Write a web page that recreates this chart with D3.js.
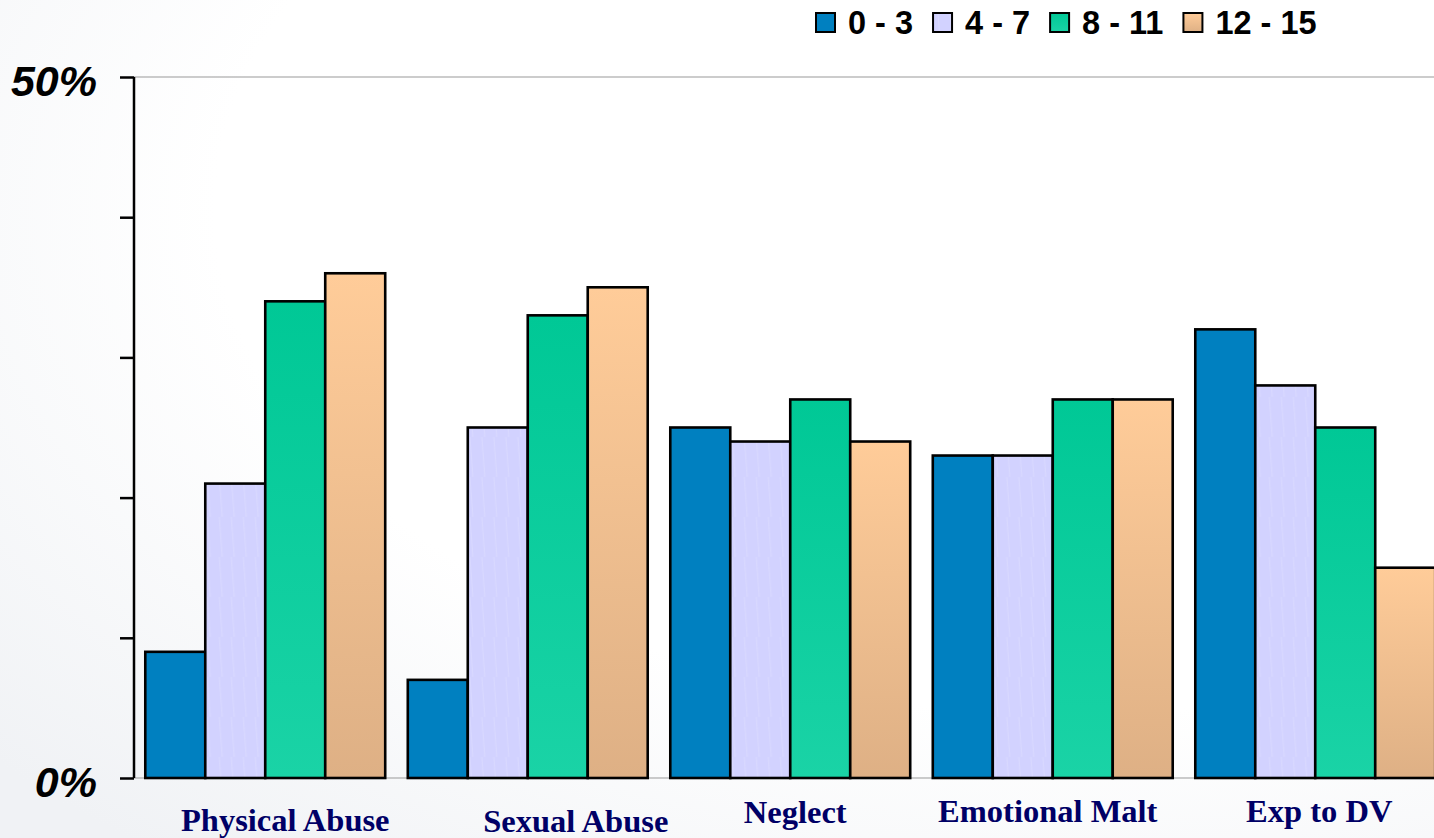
<!DOCTYPE html>
<html>
<head>
<meta charset="utf-8">
<script src="https://cdn.jsdelivr.net/npm/d3@7"></script>
<style>
  html, body { margin: 0; padding: 0; background: #fff; }
  svg { display: block; }
</style>
</head>
<body>
<svg id="chart" width="1434" height="838"></svg>
<script>
// categories and age groups
const categories = ["Physical Abuse", "Sexual Abuse", "Neglect", "Emotional Malt", "Exp to DV"]
const ageGroups = ["0 - 3", "4 - 7", "8 - 11", "12 - 15"]

// percent of cases, one array per age group (same order as categories)
const age0to3 = [9, 7, 25, 23, 32]
const age4to7 = [21, 25, 24, 23, 28]
const age8to11 = [34, 33, 27, 27, 25]
const age12to15 = [36, 35, 24, 27, 15]

const yTicks = [0, 10, 20, 30, 40, 50]
const yTickLabels = ["0%", "", "", "", "", "50%"]

const seriesValues = [age0to3, age4to7, age8to11, age12to15]

const svg = d3.select("#chart")
const W = 1434, H = 838
const margin = { left: 134, top: 77, bottom: 60 }
const plotW = 1312.5
const plotH = 778 - margin.top

/* background + gradients */
const defs = svg.append("defs")

let bg = defs.append("radialGradient").attr("id", "bg")
    .attr("cx", "0.75").attr("cy", "0.25").attr("r", "1")
bg.append("stop").attr("offset", "0.6").attr("stop-color", "#ffffff")
bg.append("stop").attr("offset", "1").attr("stop-color", "#f0f2f5")

svg.append("rect").attr("width", W).attr("height", H).attr("fill", "url(#bg)")

let g1 = defs.append("linearGradient").attr("id", "grad811").attr("x1", 0).attr("y1", 0).attr("x2", 0).attr("y2", 1)
g1.append("stop").attr("offset", 0).attr("stop-color", "#00c896")
g1.append("stop").attr("offset", 1).attr("stop-color", "#1ad3a6")

let g2 = defs.append("linearGradient").attr("id", "grad1215").attr("x1", 0).attr("y1", 0).attr("x2", 0).attr("y2", 1)
g2.append("stop").attr("offset", 0).attr("stop-color", "#ffcc99")
g2.append("stop").attr("offset", 1).attr("stop-color", "#deb085")

let pat = defs.append("pattern").attr("id", "lav")
    .attr("patternUnits", "userSpaceOnUse").attr("width", 12).attr("height", 40)
pat.append("rect").attr("width", 12).attr("height", 40).attr("fill", "#d2d2ff")
pat.append("line").attr("x1", 2).attr("y1", 0).attr("x2", 5).attr("y2", 40)
    .attr("stroke", "#dadaff").attr("stroke-width", 1)

const fills = ["#0080c0", "url(#lav)", "url(#grad811)", "url(#grad1215)"]

/* scales */
const x0 = d3.scaleBand().domain(categories).range([0, plotW]).paddingInner(0.086).paddingOuter(0.043)
const x1 = d3.scaleBand().domain(ageGroups).range([0, x0.bandwidth()])
const y = d3.scaleLinear().domain([0, 50]).range([plotH, 0])

const chartG = svg.append("g").attr("transform", `translate(${margin.left},${margin.top})`)

// top gridline and baseline
chartG.append("line").attr("x1", 0).attr("x2", W - margin.left)
    .attr("y1", y(50)).attr("y2", y(50)).attr("stroke", "#999").attr("stroke-width", 1)
chartG.append("line").attr("x1", 0).attr("x2", W - margin.left)
    .attr("y1", y(0)).attr("y2", y(0)).attr("stroke", "#999").attr("stroke-width", 1)

/* bars */
const rows = categories.map((c, i) => ({ cat: c, vals: ageGroups.map((a, j) => ({ age: a, j, value: seriesValues[j][i] })) }))

const groups = chartG.selectAll("g.grp").data(rows).enter().append("g")
    .attr("class", "grp")
    .attr("transform", d => `translate(${x0(d.cat)},0)`)

groups.selectAll("rect").data(d => d.vals).enter().append("rect")
    .attr("x", d => x1(d.age))
    .attr("y", d => y(d.value))
    .attr("width", x1.bandwidth())
    .attr("height", d => y(0) - y(d.value))
    .attr("fill", d => fills[d.j])
    .attr("stroke", "#000")
    .attr("stroke-width", 2.6)

/* y axis */
const yAxis = chartG.append("g")
    .call(d3.axisLeft(y).tickValues(yTicks).tickSize(14).tickFormat((d, i) => yTickLabels[i]))
yAxis.select(".domain").attr("stroke", "#000").attr("stroke-width", 2.5).attr("d", `M0,${y(50)}V${y(0)}`)
yAxis.selectAll(".tick line").attr("stroke", "#000").attr("stroke-width", 2.5)
yAxis.selectAll(".tick text")
    .attr("x", -37)
    .attr("dy", "0.42em")
    .style("font-family", "Liberation Sans, Arial, sans-serif")
    .style("font-size", "43px")
    .style("font-weight", "bold")
    .style("font-style", "italic")
    .attr("fill", "#000")

/* x labels (first two sit a bit lower and to the right) */
const labelNudge = { "Physical Abuse": [20, 53], "Sexual Abuse": [48, 54], "Neglect": [5, 45], "Emotional Malt": [-5, 44], "Exp to DV": [4, 44] }
chartG.selectAll("text.xlab").data(categories).enter().append("text")
    .attr("class", "xlab")
    .attr("x", d => x0(d) + x0.bandwidth() / 2 + labelNudge[d][0])
    .attr("y", d => y(0) + labelNudge[d][1])
    .attr("text-anchor", "middle")
    .style("font-family", "Liberation Serif, Times New Roman, serif")
    .style("font-size", "32.5px")
    .style("font-weight", "bold")
    .attr("fill", "#000066")
    .text(d => d)

/* legend */
const legendG = svg.append("g").attr("transform", "translate(816,13)")
let lx = 0
ageGroups.forEach((a, j) => {
    legendG.append("rect")
        .attr("x", lx).attr("y", 0).attr("width", 19).attr("height", 19)
        .attr("fill", fills[j]).attr("stroke", "#000").attr("stroke-width", 2)
    let t = legendG.append("text")
        .attr("x", lx + 32).attr("y", 21)
        .style("font-family", "Liberation Sans, Arial, sans-serif")
        .style("font-size", "32.5px")
        .style("font-weight", "bold")
        .attr("fill", "#000")
        .text(a)
    lx += 32 + t.node().getComputedTextLength() + 20
})
</script>
</body>
</html>
